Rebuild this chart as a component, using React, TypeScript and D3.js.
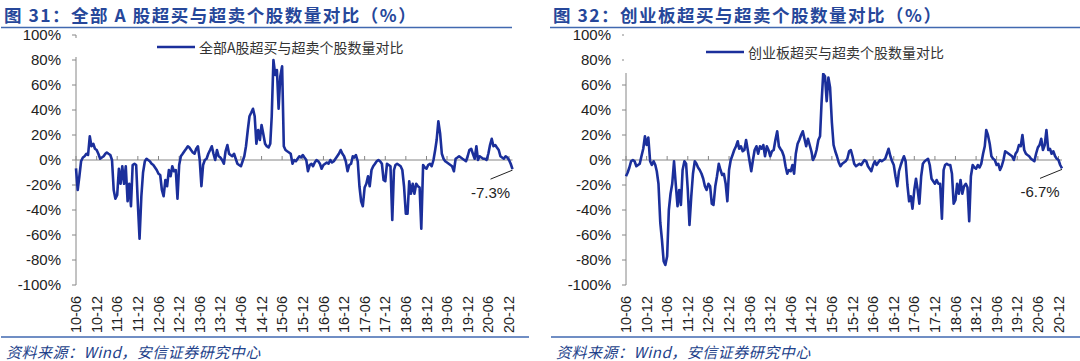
import React from 'react';
import * as d3 from 'd3';

// half-month observations, 2010-06 .. 2021-01
const tickLabels = [
  '10-06', '10-12', '11-06', '11-12', '12-06', '12-12', '13-06', '13-12', '14-06', '14-12', '15-06',
  '15-12', '16-06', '16-12', '17-06', '17-12', '18-06', '18-12', '19-06', '19-12', '20-06', '20-12',
];
const yTicks = [-100, -80, -60, -40, -20, 0, 20, 40, 60, 80, 100];

const allAValues = [
  -6.7, -24, -13, -1, 2, 3, 5, 4, 19, 11, 13, 9, 8, 5, 1, 2, 3, 5, 6, 5, 4, 0, -24, -31,
  -28, -7, -19, -5, -19, -5, -33, -19, -37, -4, -3, -4, -35, -63, -29, -10, -1, 1, 0, -1, -3, -4, -6, -8,
  -11, -12, -24, -29, -16, -21, -8, -13, -5, -9, -8, -31, -4, 3, 5, 7, 9, 11, 10, 8, 6, 5, 9, 11,
  0, -21, -4, 0, 1, 5, 8, 11, 5, 0, 8, 3, 2, 0, -3, 7, 12, 5, 4, 3, 5, 1, -3, -4,
  -5, -1, 3, 11, 24, 35, 38, 41, 35, 13, 24, 16, 28, 21, 13, 11, 10, 13, 35, 80, 68, 72, 41, 67,
  75, 11, 8, 7, 6, 5, -3, 0, -1, 1, 3, 2, 4, 2, 0, -9, -4, -3, -5, -2, 0, -1, -3, -7,
  -4, -3, -2, -3, 0, -2, -1, 1, 3, 5, 8, 5, 3, -1, -9, -4, -3, 3, 2, 4, -1, -21, -33, -37,
  -22, -19, -13, -21, -8, -5, -3, -1, 0, -1, -3, -16, -17, -3, -4, -5, -48, -8, -4, -3, -4, -5, -8, -21,
  -43, -43, -17, -27, -19, -27, -19, -21, -22, -55, -4, -6, -7, -4, -3, -5, 0, 8, 16, 31, 21, 5, 1, -1,
  -2, -3, -4, -5, -9, 1, 2, 3, 2, 1, 0, -1, 3, 8, 9, 5, 1, 11, 0, 3, 2, 1, 1, 0,
  5, 12, 17, 11, 12, 10, 8, 3, 2, 1, 3, 2, 0, -3, -7.3,
];

const chinextValues = [
  -13, -10, -6, -1, 0, -1, -5, -4, -3, 3, 9, 19, 12, 18, -1, -4, -1, -4, -9, -19, -50, -64, -81, -84,
  -77, -40, -27, -19, -1, -19, -37, -24, -36, -8, -1, -3, -24, -52, -29, -11, -1, -3, -6, -8, -11, -15, -21, -24,
  -19, -21, -35, -36, -21, -13, -3, -8, -12, -11, -19, -33, -8, 0, 4, 8, 11, 15, 9, 11, 7, 8, 16, 8,
  -1, -9, 0, 8, 11, 5, 11, 9, 12, 3, 11, 8, 3, 7, 8, 16, 23, 11, 9, 7, 3, -5, -11, -8,
  -9, -4, -11, 5, 13, 16, 20, 23, 17, 11, 17, 12, 7, 0, 3, 8, 16, 19, 45, 69, 67, 47, 66, 58,
  30, 12, 7, 3, -2, -5, -3, -2, -1, 1, 7, 8, 3, -3, -5, -4, -3, -4, -2, 0, -1, -5, -7, -9,
  -4, -1, -4, -2, 0, -1, 0, 1, 5, 9, 3, -1, -4, -13, -21, -9, -4, 0, 3, -1, -20, -33, -29, -39,
  -24, -15, -24, -35, -13, -3, -1, 0, 1, -4, -15, -17, -19, -16, -19, -19, -47, -8, -4, -3, -4, -4, -11, -35,
  -32, -19, -27, -16, -27, -21, -19, -22, -49, -13, -4, -6, -7, -4, -6, -3, 5, 11, 24, 20, 13, 3, 1, 0,
  -4, -3, -8, -5, 0, 7, 6, 5, 4, 3, 0, 5, 7, 12, 11, 20, 8, 5, 4, 3, 1, 0, -1, 5,
  10, 12, 17, 8, 12, 24, 8, 9, 5, 7, 3, 1, 0, -4, -6.7,
];

const LINE = '#1B2F9B';
const RULE = '#4169B0';
const AXIS = '#868686';
const SANS = '"Liberation Sans", Arial, sans-serif';
const CJK = '"Noto Sans CJK SC", sans-serif';

const dateAt = (i: number) => new Date(2010, 5 + Math.floor(i / 2), i % 2 ? 16 : 1);
const tickDate = (s: string) => new Date(2000 + +s.slice(0, 2), +s.slice(3) - 1, 1);

type PanelProps = {
  left: number;
  right: number;
  title: string;
  legend: string;
  values: number[];
  note: string;
  legendY: number;
  legendX: number;
  boxTop: number;
  boxBottom: number;
  ruleLeft: number;
  ruleRight: number;
  footLeft: number;
  footRight: number;
};

function Panel(p: PanelProps) {
  const x = d3.scaleTime().domain([new Date(2010, 5, 1), new Date(2021, 0, 1)]).range([p.left, p.right]);
  const y = d3.scaleLinear().domain([-100, 100]).range([285, 35]);
  const line = d3.line<number>()
    .x((d, i) => x(dateAt(i)))
    .y((d) => y(d));
  const n = p.values.length - 1;
  const lx = x(dateAt(n));
  const ly = y(p.values[n]);
  const axisX = x.range()[0];

  return (
    <g>
      <text x={p.ruleLeft + 3} y={14} dominantBaseline="central" fontFamily={CJK} fontWeight={700}
        fontSize={17.5} fill="#26479A" letterSpacing={1.5}>{p.title}</text>
      <line x1={p.ruleLeft} x2={p.ruleRight} y1={27.5} y2={27.5} stroke={RULE} strokeWidth={1.6} />

      {yTicks.map((t) => (
        <g key={t}>
          <line x1={axisX - 4} x2={axisX} y1={y(t)} y2={y(t)} stroke={AXIS} />
          <text x={axisX - 15} y={y(t)} dy="0.35em" textAnchor="end" fontFamily={SANS} fontSize={15} fill="#222">
            {t}%
          </text>
        </g>
      ))}
      <line x1={axisX} x2={axisX} y1={y(100)} y2={y(-100)} stroke={AXIS} />
      <line x1={axisX} x2={p.right} y1={y(0)} y2={y(0)} stroke={AXIS} />
      {tickLabels.map((t) => {
        const tx = x(tickDate(t));
        return (
          <g key={t}>
            <line x1={tx} x2={tx} y1={y(0)} y2={y(0) - 4} stroke={AXIS} />
            <text transform={`translate(${tx},296) rotate(-90)`} dy="0.35em" textAnchor="end"
              fontFamily={SANS} fontSize={14.5} fill="#222">{t}</text>
          </g>
        );
      })}

      <path d={line(p.values) || ''} fill="none" stroke={LINE} strokeWidth={2.6} strokeLinejoin="round" />

      <rect x={axisX - 2} y={p.boxTop} width={p.legendX + 225 - axisX} height={p.boxBottom - p.boxTop} fill="#fff" />
      <line x1={p.legendX - 42} x2={p.legendX - 4} y1={p.legendY} y2={p.legendY} stroke={LINE} strokeWidth={2.6} />
      <text x={p.legendX} y={p.legendY} dominantBaseline="central" fontFamily={CJK} fontSize={14} fill="#333">
        {p.legend}
      </text>

      <line x1={lx} y1={ly + 1} x2={lx - 22} y2={ly + 10} stroke="#222" strokeWidth={1} />
      <text x={lx - 22} y={ly + 23} textAnchor="middle" dominantBaseline="central" fontFamily={SANS} fontSize={15} fill="#222">
        {p.note}
      </text>

      <line x1={p.footLeft} x2={p.footRight} y1={337} y2={337} stroke={RULE} strokeWidth={1.4} />
      <text x={p.footLeft + 5} y={351.5} dominantBaseline="central" fontFamily={CJK} fontStyle="italic" fontSize={15}
        letterSpacing={0.5} fill="#22418A">
        资料来源：Wind，安信证券研究中心
      </text>
    </g>
  );
}

export default function App() {
  return (
    <svg width={1080} height={361} style={{ position: 'absolute', left: 0, top: 0, background: '#fff' }}>
      <Panel left={76} right={512.5} title="图 31：全部 A 股超买与超卖个股数量对比（%）"
        legend="全部A股超买与超卖个股数量对比" values={allAValues} note="-7.3%"
        legendX={199} legendY={47} boxTop={38} boxBottom={57} ruleLeft={1} ruleRight={512} footLeft={1} footRight={529} />
      <Panel left={626} right={1062} title="图 32：创业板超买与超卖个股数量对比（%）"
        legend="创业板超买与超卖个股数量对比" values={chinextValues} note="-6.7%"
        legendX={748} legendY={52} boxTop={30} boxBottom={73} ruleLeft={550} ruleRight={1080} footLeft={551} footRight={1080} />
    </svg>
  );
}
